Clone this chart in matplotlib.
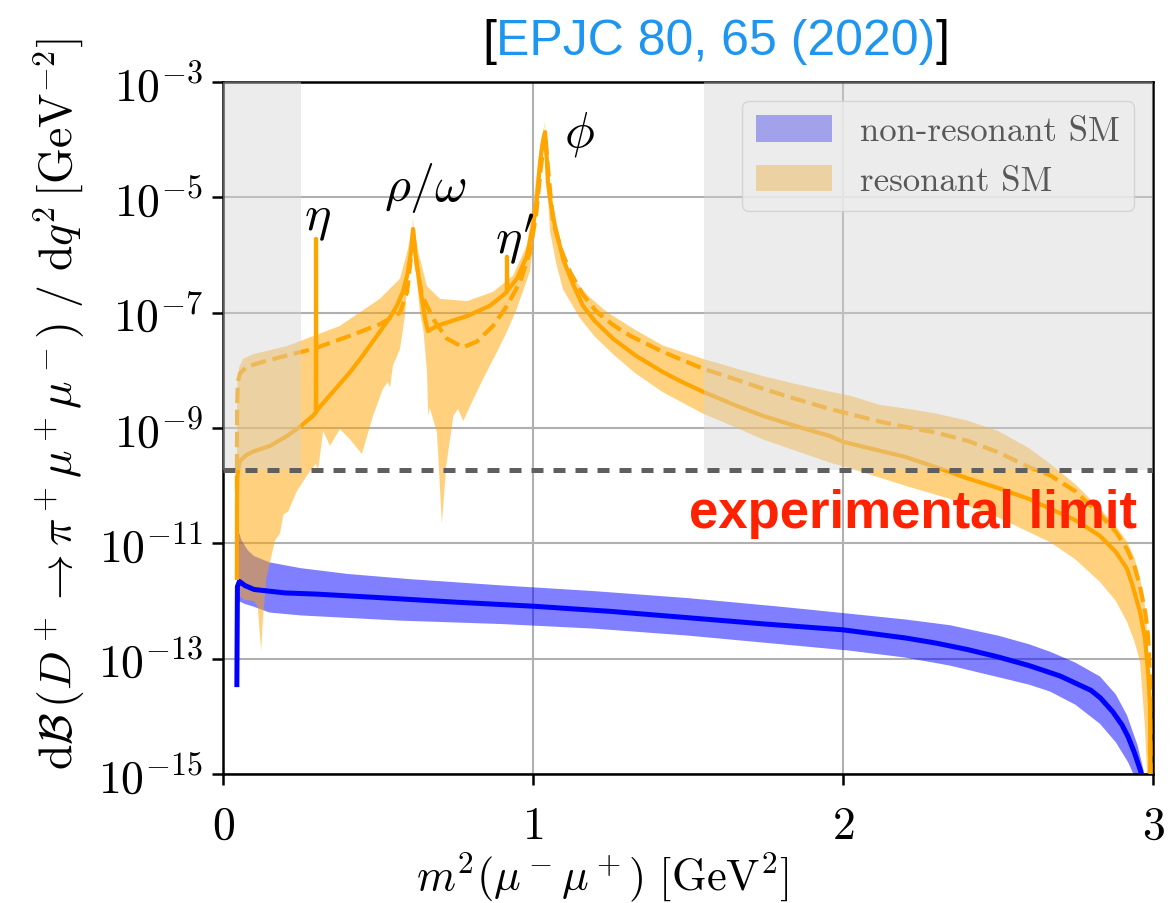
import numpy as np
import matplotlib.pyplot as plt
from matplotlib.ticker import FuncFormatter, NullLocator
from matplotlib.offsetbox import TextArea, HPacker, AnchoredOffsetbox

plt.rcParams['mathtext.fontset'] = 'cm'

# q^2 in GeV^2, rates stored as log10(dB/dq^2)
# non-resonant SM: central value and uncertainty band
nr_x = [0.0447, 0.0465, 0.053, 0.07, 0.1, 0.2, 0.3, 0.5, 0.75, 1.0, 1.25, 1.5,
        1.75, 2.0, 2.1, 2.2, 2.3, 2.4, 2.5, 2.6, 2.7, 2.8, 2.83, 2.87, 2.9,
        2.92, 2.94, 2.96, 2.975, 2.985, 2.993]
nr_mid = [-13.45, -11.75, -11.66, -11.73, -11.80, -11.86, -11.88, -11.94, -12.02,
          -12.09, -12.18, -12.29, -12.40, -12.50, -12.57, -12.64, -12.73, -12.84,
          -12.97, -13.12, -13.30, -13.55, -13.68, -13.92, -14.15, -14.36, -14.63,
          -14.95, -15.3, -15.8, -17.0]
nr_up_x = [0.0447, 0.046, 0.048, 0.06, 0.08, 0.1, 0.15, 0.25, 0.4, 0.6, 0.9, 1.2,
           1.5, 1.8, 2.02, 2.2, 2.345, 2.5, 2.6, 2.668, 2.75, 2.829, 2.88, 2.916,
           2.95, 2.97, 2.985, 2.993]
nr_up = [-13.3, -11.0, -10.75, -10.95, -11.12, -11.22, -11.33, -11.43, -11.53,
         -11.62, -11.73, -11.83, -11.95, -12.10, -12.22, -12.32, -12.42, -12.60,
         -12.75, -12.88, -13.07, -13.31, -13.62, -13.98, -14.5, -14.95, -15.6, -17.0]
nr_lo_x = [0.0447, 0.046, 0.05, 0.07, 0.1, 0.15, 0.25, 0.57, 0.9, 1.2, 1.5, 1.8,
           2.02, 2.2, 2.345, 2.5, 2.6, 2.668, 2.75, 2.829, 2.88, 2.92, 2.945,
           2.97, 2.993]
nr_lo = [-13.6, -12.3, -12.0, -12.05, -12.1, -12.2, -12.25, -12.34, -12.40, -12.48,
         -12.60, -12.75, -12.86, -12.98, -13.12, -13.32, -13.45, -13.57, -13.80,
         -14.13, -14.45, -14.80, -15.1, -15.6, -17.0]

# resonant SM: two central curves (solid / dashed) and the band
res_x = [0.0447, 0.045, 0.046, 0.05, 0.055, 0.075, 0.097, 0.152, 0.206, 0.248,
         0.29, 0.2995, 0.300, 0.301, 0.313, 0.36, 0.41, 0.45, 0.506, 0.54,
         0.561, 0.58, 0.594, 0.605, 0.61, 0.613, 0.620, 0.635, 0.652, 0.661,
         0.69, 0.74, 0.787, 0.861, 0.903, 0.9155, 0.916, 0.917, 0.948, 0.98,
         1.0, 1.012, 1.023, 1.03, 1.035, 1.039, 1.044, 1.048, 1.055, 1.071,
         1.097, 1.13, 1.161, 1.2, 1.258, 1.33, 1.419, 1.48, 1.548, 1.65, 1.742,
         1.85, 1.958, 2.0, 2.1, 2.2, 2.3, 2.4, 2.5, 2.6, 2.668, 2.75, 2.829,
         2.88, 2.916, 2.935, 2.958, 2.974, 2.985, 2.99, 2.993]
res_solid = [-11.60, -10.30, -9.85, -9.68, -9.57, -9.47, -9.41, -9.31, -9.14, -8.98,
             -8.79, -8.73, -5.72, -8.71, -8.63, -8.34, -8.03, -7.75, -7.33, -7.07,
             -6.88, -6.64, -6.36, -6.00, -5.75, -5.55, -5.95, -6.54, -7.11, -7.32,
             -7.23, -7.14, -7.06, -6.88, -6.70, -6.64, -6.03, -6.62, -6.41, -6.02,
             -5.50, -5.05, -4.39, -4.10, -3.95, -3.87, -4.30, -4.73, -5.03, -5.50,
             -6.07, -6.52, -6.88, -7.15, -7.45, -7.74, -8.03, -8.20, -8.37, -8.60,
             -8.79, -8.97, -9.14, -9.24, -9.37, -9.50, -9.68, -9.87, -10.04, -10.23,
             -10.40, -10.60, -10.87, -11.15, -11.44, -11.75, -12.19, -12.65, -13.30,
             -13.80, -16.0]
res_dash_x = [0.0447, 0.0455, 0.048, 0.055, 0.076, 0.13, 0.2, 0.29, 0.41, 0.506,
              0.571, 0.594, 0.61, 0.613, 0.625, 0.642, 0.678, 0.722, 0.775, 0.819,
              0.871, 0.916, 0.958, 0.99, 1.01, 1.025, 1.039, 1.05, 1.065, 1.09,
              1.12, 1.16, 1.206, 1.26, 1.313, 1.419, 1.548, 1.65, 1.742, 1.85,
              1.958, 2.119, 2.2, 2.3, 2.4, 2.5, 2.6, 2.668, 2.75, 2.829, 2.88,
              2.916, 2.94, 2.958, 2.975, 2.984, 2.99, 2.993]
res_dash = [-10.10, -8.60, -8.20, -8.05, -7.94, -7.85, -7.75, -7.63, -7.40, -7.20,
            -7.00, -6.64, -5.84, -5.60, -6.19, -6.70, -7.11, -7.45, -7.60, -7.50,
            -7.23, -6.88, -6.47, -5.95, -5.30, -4.50, -3.90, -4.60, -5.43, -5.90,
            -6.30, -6.68, -6.99, -7.22, -7.40, -7.68, -7.97, -8.15, -8.32, -8.50,
            -8.67, -8.89, -8.98, -9.08, -9.22, -9.42, -9.68, -9.82, -10.10, -10.50,
            -10.80, -11.10, -11.40, -11.75, -12.20, -12.60, -13.30, -16.0]
res_up_x = [0.0447, 0.045, 0.047, 0.052, 0.065, 0.097, 0.206, 0.377, 0.41, 0.506,
            0.571, 0.597, 0.613, 0.63, 0.658, 0.70, 0.787, 0.871, 0.935, 0.98,
            1.0, 1.023, 1.039, 1.05, 1.06, 1.077, 1.1, 1.13, 1.18, 1.239, 1.33,
            1.419, 1.548, 1.65, 1.742, 1.85, 1.958, 2.023, 2.119, 2.2, 2.3, 2.4,
            2.5, 2.6, 2.668, 2.75, 2.829, 2.88, 2.916, 2.94, 2.958, 2.972, 2.981,
            2.988, 2.993]
res_up = [-11.6, -8.8, -8.2, -7.95, -7.8, -7.72, -7.58, -7.23, -7.11, -6.76,
          -6.41, -5.89, -5.37, -5.95, -6.54, -6.76, -6.80, -6.64, -6.36, -5.84,
          -5.15, -4.10, -3.68, -4.50, -5.00, -5.72, -6.05, -6.41, -6.72, -6.99,
          -7.30, -7.57, -7.80, -7.96, -8.10, -8.24, -8.37, -8.44, -8.60, -8.66,
          -8.75, -8.87, -9.05, -9.35, -9.62, -9.98, -10.40, -10.70, -10.97, -11.25,
          -11.60, -12.0, -12.5, -13.3, -16.0]
res_lo_x = [0.0447, 0.05, 0.07, 0.1, 0.112, 0.123, 0.129, 0.14, 0.152, 0.168,
            0.184, 0.195, 0.21, 0.238, 0.27, 0.300, 0.305, 0.31, 0.323, 0.345,
            0.377, 0.41, 0.448, 0.484, 0.516, 0.532, 0.539, 0.548, 0.571, 0.587,
            0.603, 0.613, 0.625, 0.635, 0.647, 0.658, 0.662, 0.667, 0.69, 0.706,
            0.72, 0.743, 0.758, 0.775, 0.797, 0.839, 0.884, 0.916, 0.948, 0.99,
            1.006, 1.025, 1.039, 1.045, 1.055, 1.075, 1.097, 1.152, 1.2, 1.258,
            1.33, 1.419, 1.548, 1.65, 1.742, 1.85, 1.958, 2.023, 2.2, 2.345, 2.5,
            2.668, 2.75, 2.829, 2.88, 2.916, 2.94, 2.958, 2.974, 2.985, 2.993]
res_lo = [-11.6, -11.9, -11.98, -12.0, -12.1, -12.86, -12.3, -11.6, -11.32, -10.95,
          -10.83, -10.5, -10.45, -10.10, -9.83, -9.62, -9.75, -9.6, -9.05, -9.31,
          -9.02, -9.2, -9.45, -8.79, -8.32, -8.2, -8.3, -7.92, -7.63, -7.05,
          -5.89, -5.37, -6.41, -6.99, -7.33, -8.03, -8.79, -8.65, -9.07, -10.66,
          -9.66, -8.79, -8.67, -8.88, -8.62, -8.15, -7.68, -7.33, -6.93, -6.29,
          -5.60, -4.40, -3.68, -4.70, -5.60, -6.15, -6.60, -7.10, -7.42, -7.72,
          -8.05, -8.38, -8.75, -8.98, -9.20, -9.40, -9.60, -9.70, -10.0, -10.23,
          -10.55, -10.98, -11.28, -11.67, -12.0, -12.36, -12.70, -13.05, -14.2,
          -15.5, -16.0]

exp_limit = 1.85e-10
veto_ranges = [(0.0, 0.25), (1.55, 3.0)]

resonances = ['$\\eta$', '$\\rho/\\omega$', "$\\eta'$", '$\\phi$']
res_label_x = [0.305, 0.652, 0.94, 1.148]
res_label_y = [-5.35, -4.82, -5.72, -3.90]


def lin(v):
    return 10.0 ** np.asarray(v)


fig = plt.figure(figsize=(11.7, 9.04), dpi=100)
ax = fig.add_subplot(111)
fig.subplots_adjust(left=0.1906, right=0.9855, top=0.9082, bottom=0.1427)

# bands
ax.fill(np.r_[nr_up_x, nr_lo_x[::-1]], lin(np.r_[nr_up, nr_lo[::-1]]),
        color='blue', alpha=0.5, lw=0, zorder=2, label='non-resonant SM')
ax.fill(np.r_[res_up_x, res_lo_x[::-1]], lin(np.r_[res_up, res_lo[::-1]]),
        color='orange', alpha=0.5, lw=0, zorder=2.1, label='resonant SM')

# central curves
ax.plot(nr_x, lin(nr_mid), color='blue', lw=3.6, zorder=3)
ax.plot(res_x, lin(res_solid), color='orange', lw=3.0, zorder=3.1)
ax.plot(res_dash_x, lin(res_dash), color='orange', lw=3.0, ls='--', zorder=3.1)

leg = ax.legend(loc='upper right', prop={'family': 'cmr10', 'size': 25},
                handlelength=2.2, handleheight=0.8, handletextpad=0.8,
                labelspacing=0.5, borderaxespad=0.55, framealpha=0.8,
                edgecolor='0.8')

# excluded q^2 regions shaded above the limit (drawn over everything)
for lo, hi in veto_ranges:
    ax.fill_between([lo, hi], exp_limit, 1e-3, color='lightgray', alpha=0.42,
                    lw=0, zorder=10)

ax.axhline(exp_limit, color='#5f5f5f', lw=3.6, ls=(0, (2.4, 2.0)), zorder=11)
ax.text(2.948, 10 ** -10.72, 'experimental limit', color='#ff2200',
        fontsize=38, fontweight='bold', family='Liberation Sans',
        ha='right', va='baseline', zorder=11)

for lab, lx, ly in zip(resonances, res_label_x, res_label_y):
    ax.text(lx, 10 ** ly, lab, fontsize=36, ha='center', va='center', zorder=6)

ax.set_yscale('log')
ax.set_xlim(0, 3)
ax.set_ylim(1e-15, 1e-3)
ax.set_xticks([0, 1, 2, 3])
ax.set_yticks(10.0 ** np.arange(-15, -2, 2))
ax.yaxis.set_minor_locator(NullLocator())
ax.yaxis.set_major_formatter(FuncFormatter(lambda v, p: '$10^{%d}$' % round(np.log10(v))))
ax.xaxis.set_major_formatter(FuncFormatter(lambda v, p: '$%d$' % round(v)))
ax.tick_params(labelsize=33, direction='out', length=8, width=1.8, pad=6)
ax.tick_params(axis='x', pad=13)
for s in ax.spines.values():
    s.set_linewidth(1.8)
ax.grid(True, color='#b0b0b0', lw=1.5)
ax.set_axisbelow(True)

ax.set_xlabel(r'$m^2(\mu^-\mu^+)\ [\mathrm{GeV}^2]$', fontsize=32)
ax.set_ylabel(r'$\mathrm{d}\mathcal{B}\,(D^+ \to \pi^+\mu^+\mu^-)\ /\ \mathrm{d}q^2\,[\mathrm{GeV}^{-2}]$',
              fontsize=33)
ax.xaxis.set_label_coords(0.408, -0.108)
ax.yaxis.set_label_coords(-0.146, 0.536)

# reference tag above the axes
tprops = dict(fontsize=36, family='Liberation Sans')
parts = [TextArea('[', textprops=dict(color='black', **tprops)),
         TextArea('EPJC 80, 65 (2020)', textprops=dict(color='#1e96f0', **tprops)),
         TextArea(']', textprops=dict(color='black', **tprops))]
tag = AnchoredOffsetbox(loc='center', child=HPacker(children=parts, align='baseline', pad=0, sep=0),
                        bbox_to_anchor=(716 / 1170, 1 - 42 / 904),
                        bbox_transform=fig.transFigure, frameon=False, pad=0, borderpad=0)
fig.add_artist(tag)

fig.savefig('out.png', dpi=100)
